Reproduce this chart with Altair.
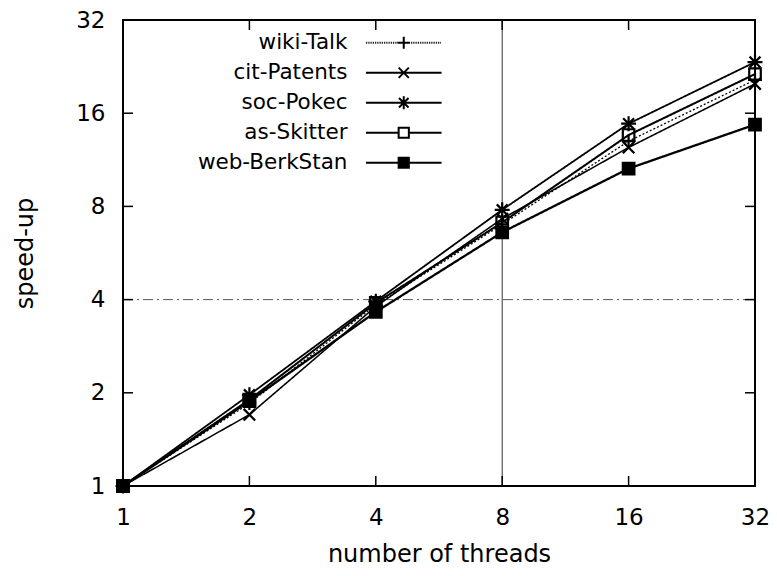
import altair as alt
import pandas as pd
import numpy as np

threads = [1, 2, 4, 8, 16, 32]
series_names = ["wiki-Talk", "cit-Patents", "soc-Pokec", "as-Skitter", "web-BerkStan"]
wiki_talk = [1, 1.85, 3.85, 7.0, 13.0, 20.5]
cit_patents = [1, 1.70, 3.80, 7.3, 12.4, 19.9]
soc_pokec = [1, 1.97, 3.95, 7.8, 14.8, 23.4]
as_skitter = [1, 1.90, 3.90, 7.1, 13.6, 21.4]
web_berkstan = [1, 1.88, 3.65, 6.6, 10.6, 14.7]
tick_values = [1, 2, 4, 8, 16, 32]
inner_ticks = [2, 4, 8, 16]

all_series = [wiki_talk, cit_patents, soc_pokec, as_skitter, web_berkstan]
rows = []
for name, vals in zip(series_names, all_series):
    for t, v in zip(threads, vals):
        rows.append({"series": name, "threads": t, "speedup": v})
df = pd.DataFrame(rows)
ticks_df = pd.DataFrame({"v": inner_ticks})

W, H = 632, 466
FONT = "DejaVu Sans"

xs = alt.Scale(type="log", base=2, domain=[1, 32], nice=False)
ys = alt.Scale(type="log", base=2, domain=[1, 32], nice=False)

# marker paths for the plot
plus = "M-1,0L1,0M0,-1L0,1"
xcross = "M-0.85,-0.85L0.85,0.85M-0.85,0.85L0.85,-0.85"
aster = "M-1.1,0L1.1,0M0,-1.1L0,1.1M-0.8,-0.8L0.8,0.8M-0.8,0.8L0.8,-0.8"
sq = "M-0.85,-0.85L0.85,-0.85L0.85,0.85L-0.85,0.85Z"
plot_shapes = [plus, xcross, aster, sq, sq]
plot_fills = ["transparent", "transparent", "transparent", "transparent", "black"]

# legend symbol paths (line + marker)
L = 6.3
solid = f"M{-L},0L{L},0"
dotted = "".join(f"M{x:.2f},0L{x + 0.15:.2f},0" for x in np.arange(-L, L, 0.3))
sq_line = f"M{-L},0L-0.85,0M0.85,0L{L},0"
hatch = "".join(f"M-0.85,{y:.2f}L0.85,{y:.2f}" for y in np.linspace(-0.85, 0.85, 7))
legend_shapes = [dotted + plus, solid + xcross, solid + aster, sq_line + sq, solid + sq + hatch]

base = alt.Chart(df)

grid_x = alt.Chart(pd.DataFrame({"v": [8]})).mark_rule(color="#333", strokeWidth=1).encode(
    x=alt.X("v:Q", scale=xs), y=alt.value(0), y2=alt.value(H))
grid_y = alt.Chart(pd.DataFrame({"v": [4]})).mark_rule(color="#555", strokeWidth=1, strokeDash=[10, 4, 2, 4]).encode(
    y=alt.Y("v:Q", scale=ys), x=alt.value(0), x2=alt.value(W))

lines = base.mark_line(color="black").encode(
    x=alt.X("threads:Q", scale=xs,
            axis=alt.Axis(values=tick_values, format="d", title="number of threads")),
    y=alt.Y("speedup:Q", scale=ys,
            axis=alt.Axis(values=tick_values, format="d", title="speed-up")),
    detail="series:N",
    strokeDash=alt.StrokeDash("series:N", scale=alt.Scale(domain=series_names,
                              range=[[2, 2], [1, 0], [1, 0], [1, 0], [1, 0]]), legend=None),
    strokeWidth=alt.StrokeWidth("series:N", scale=alt.Scale(domain=series_names,
                                range=[1.3, 2.3, 2.7, 1.5, 1.7]), legend=None),
)

points = base.mark_point(filled=True, stroke="black", strokeWidth=2.2, size=185, opacity=1).encode(
    x=alt.X("threads:Q", scale=xs),
    y=alt.Y("speedup:Q", scale=ys),
    shape=alt.Shape("series:N", scale=alt.Scale(domain=series_names, range=plot_shapes), legend=None),
    fill=alt.Fill("series:N", scale=alt.Scale(domain=series_names, range=plot_fills), legend=None),
)

legend_layer = base.transform_filter("false").mark_point(
    filled=False, color="black", strokeWidth=2, size=144, opacity=1).encode(
    x=alt.X("threads:Q", scale=xs),
    y=alt.Y("speedup:Q", scale=ys),
    shape=alt.Shape("series:N", scale=alt.Scale(domain=series_names, range=legend_shapes),
                    legend=alt.Legend(title=None, orient="none", legendX=70, legendY=12,
                                      labelAlign="right", labelOffset={"expr": "-67"},
                                      symbolOffset=200,
                                      labelFont=FONT, labelFontSize=21.5, labelColor="black",
                                      labelLimit=400, rowPadding=7, padding=0,
                                      symbolStrokeColor="black", symbolFillColor="transparent",
                                      symbolStrokeWidth=2, symbolSize=144)),
)

tl = alt.Chart(ticks_df).mark_rule(color="black", strokeWidth=1.5).encode(
    y=alt.Y("v:Q", scale=ys), x=alt.value(0), x2=alt.value(10))
tr = alt.Chart(ticks_df).mark_rule(color="black", strokeWidth=1.5).encode(
    y=alt.Y("v:Q", scale=ys), x=alt.value(W - 10), x2=alt.value(W))
tb = alt.Chart(ticks_df).mark_rule(color="black", strokeWidth=1.5).encode(
    x=alt.X("v:Q", scale=xs), y=alt.value(H - 10), y2=alt.value(H))
tt = alt.Chart(ticks_df).mark_rule(color="black", strokeWidth=1.5).encode(
    x=alt.X("v:Q", scale=xs), y=alt.value(0), y2=alt.value(10))

chart = alt.layer(grid_x, grid_y, lines, points, legend_layer, tl, tr, tb, tt).resolve_scale(
    shape="independent"
).properties(
    width=W, height=H,
    autosize=alt.AutoSizeParams(type="none"),
    padding={"left": 115, "top": 12, "right": 14, "bottom": 82},
).configure_view(
    stroke="black", strokeWidth=2
).configure_axis(
    grid=False, ticks=False, domain=False, labelFont=FONT, titleFont=FONT,
    labelFontSize=23, titleFontSize=24, labelColor="black", titleColor="black",
    titleFontWeight="normal", labelFlush=False, labelOverlap=False,
).configure_axisX(
    labelPadding=20, titlePadding=13
).configure_axisY(
    labelPadding=18, titlePadding=38
)

chart.save("out.html", embed_options={"renderer": "svg", "actions": False})
